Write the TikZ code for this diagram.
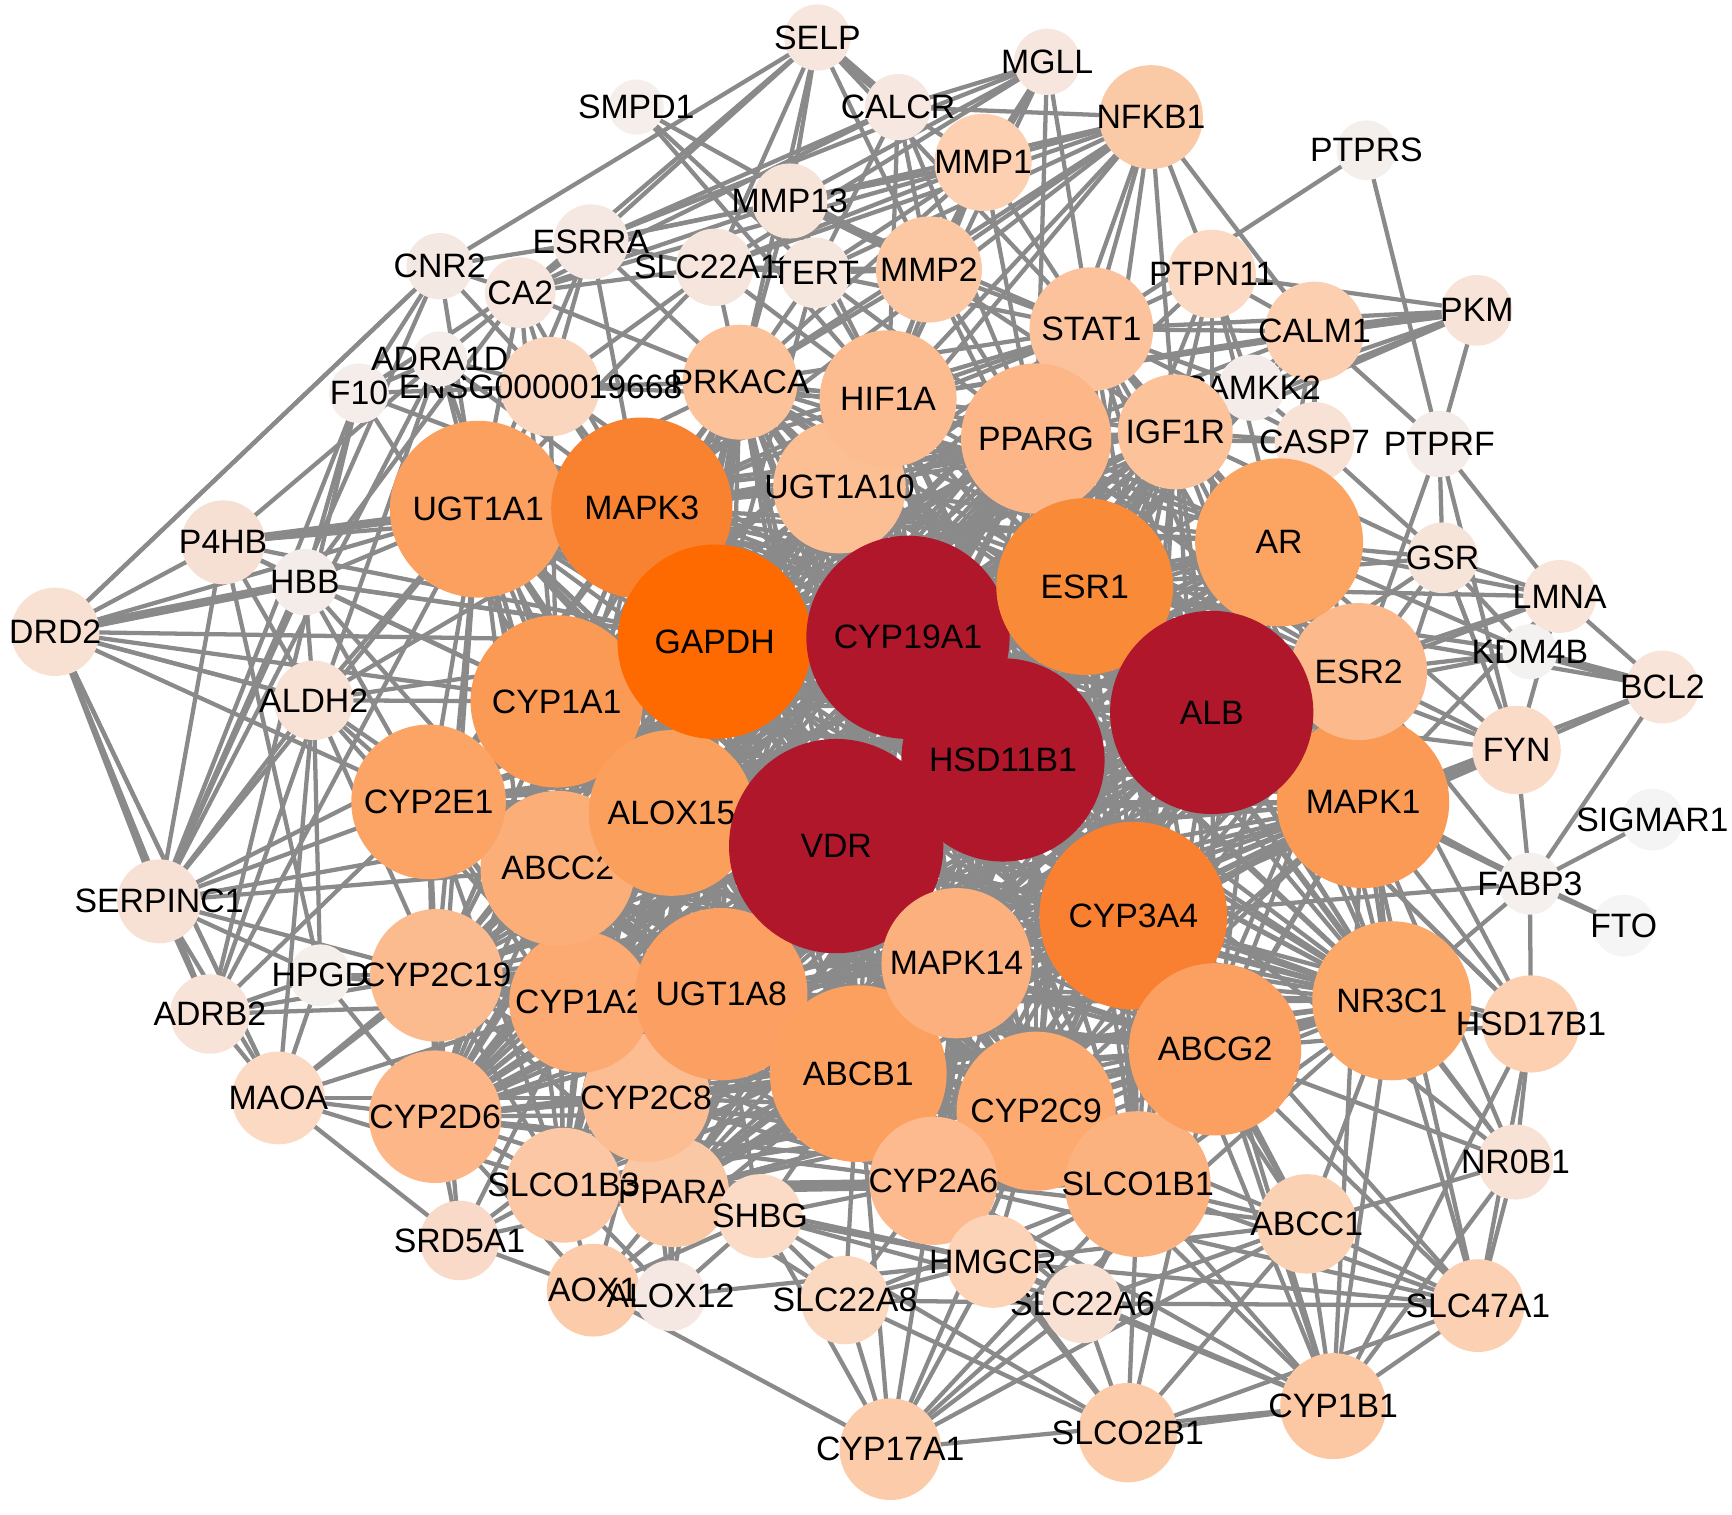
\documentclass[tikz,border=0pt]{standalone}
\usepackage{fontspec}
\setmainfont{Liberation Sans}
\usepackage{tikz}
\definecolor{linkgray}{HTML}{8A8A8A}

\begin{document}
\begin{tikzpicture}[x=0.01cm, y=-0.01cm,
        link/.style={draw=linkgray, line width=1.1pt},
        heavylink/.style={draw=linkgray, line width=2.2pt},
        genelabel/.style={inner sep=0pt, text=black, font=\fontsize{8.7}{10.4}\selectfont}]
    \useasboundingbox (0,0) rectangle (1568,1371);
    % gene positions
    \foreach \g/\x/\y in {SELP/740/34, SMPD1/576/97, CALCR/813/97, MGLL/948/56, NFKB1/1042/106,
        MMP1/890/147, PTPRS/1237/136, MMP13/715/182, ESRRA/535/219, CNR2/398/241, CA2/471/265,
        SLC22A11/647/242, TERT/738/247, MMP2/841/244, PTPN11/1097/248, STAT1/988/298,
        CALM1/1190/300, PKM/1337/281, ADRA1D/398/325, F10/325/356, ENSG00000196689/498/350,
        PRKACA/670/346, HIF1A/804/361, CAMKK2/1133/351, PPARG/938/397, IGF1R/1064/391,
        CASP7/1190/400, PTPRF/1303/402, UGT1A10/760/441, UGT1A1/433/461, MAPK3/581/460,
        P4HB/202/491, HBB/276/527, GSR/1306/505, AR/1158/491, ESR1/982/531, CYP19A1/822/577,
        GAPDH/647/581, LMNA/1412/540, DRD2/50/572, KDM4B/1385/590, BCL2/1505/622, ESR2/1230/608,
        ALB/1097/645, CYP1A1/504/635, ALDH2/284/634, FYN/1373/679, HSD11B1/908/688,
        CYP2E1/388/726, ALOX15/608/736, MAPK1/1234/726, SIGMAR1/1496/742, VDR/757/766,
        ABCC2/505/786, SERPINC1/144/816, FABP3/1385/800, CYP3A4/1026/829, FTO/1470/838,
        MAPK14/866/872, HPGD/290/883, CYP2C19/395/883, CYP1A2/525/907, UGT1A8/653/900,
        NR3C1/1260/906, HSD17B1/1386/927, ADRB2/190/918, ABCG2/1100/950, ABCB1/777/972,
        MAOA/252/994, CYP2C8/585/994, CYP2C9/938/1006, CYP2D6/394/1011, NR0B1/1372/1052,
        SLCO1B3/510/1073, PPARA/610/1079, CYP2A6/845/1069, SLCO1B1/1030/1072, SHBG/688/1101,
        ABCC1/1183/1108, SRD5A1/416/1123, HMGCR/899/1142, AOX1/537/1168, ALOX12/607/1173,
        SLC22A8/765/1177, SLC22A6/980/1180, SLC47A1/1338/1182, CYP1B1/1207/1273,
        SLCO2B1/1021/1297, CYP17A1/806/1312}
        \coordinate (\g) at (\x,\y);

    % dense core: every pair is linked
    \def\corelist{CYP19A1, HSD11B1, VDR, ALB, GAPDH, MAPK3, ESR1, CYP3A4, UGT1A1, AR, MAPK1,
        CYP1A1, ALOX15, ABCC2, CYP2E1, UGT1A8, ABCB1, ABCG2, NR3C1, CYP1A2, MAPK14, CYP2C9,
        SLCO1B1, CYP2A6, CYP2C8, CYP2C19, CYP2D6, PPARG, HIF1A, UGT1A10, IGF1R, STAT1, PRKACA,
        ESR2, SLCO1B3, PPARA}
    \foreach \a [count=\i] in \corelist {
        \foreach \b [count=\j] in \corelist {
            \ifnum\j>\i \draw[link] (\a) -- (\b); \fi
        }
    }

    % outer genes and their partners
    \foreach \s/\ts in {
        SELP/{CNR2,CA2,SLC22A11,MMP13,MMP2,PRKACA,STAT1,ESRRA},
        SMPD1/{TERT,MMP2,HIF1A},
        MGLL/{ESRRA,CALCR,MMP13,MMP1,MMP2,STAT1,PPARG,HIF1A,SLC22A11},
        CALCR/{ESRRA,CA2,MMP2,MMP1,HIF1A,TERT,PPARG,NFKB1},
        NFKB1/{MMP1,MMP2,MMP13,STAT1,PTPN11,PPARG,HIF1A,IGF1R,PRKACA,TERT,SLC22A11,CALM1,ESR1,MAPK3,GAPDH},
        MMP1/{MMP13,MMP2,TERT,STAT1,HIF1A,PPARG,SLC22A11,ESRRA,CA2,PRKACA,UGT1A10},
        PTPRS/{PTPRF,STAT1},
        MMP13/{MMP2,TERT,CA2,ESRRA,PRKACA,HIF1A,STAT1},
        ESRRA/{CNR2,CA2,SLC22A11,ENSG00000196689,PRKACA,UGT1A1,MAPK3,F10},
        CNR2/{CA2,ENSG00000196689,F10,DRD2,SERPINC1,UGT1A1},
        CA2/{ENSG00000196689,SLC22A11,PRKACA,UGT1A1,MAPK3,CYP1A1,ADRA1D,HBB},
        SLC22A11/{TERT,MMP2,PRKACA,HIF1A,UGT1A1,ENSG00000196689},
        TERT/{MMP2,PRKACA,HIF1A,STAT1,PPARG,GAPDH},
        MMP2/{STAT1,HIF1A,PPARG,PRKACA,IGF1R,ESR1},
        PTPN11/{STAT1,CALM1,IGF1R,PPARG,CAMKK2,ESR1,PKM,AR,ALB},
        CALM1/{CAMKK2,CASP7,PTPRF,STAT1,IGF1R,PPARG,HIF1A,ESR1,AR},
        PKM/{PTPRF,STAT1,CAMKK2,HIF1A,IGF1R,GAPDH},
        CAMKK2/{STAT1,IGF1R,PPARG,ESR1,CASP7},
        CASP7/{AR,ESR1,IGF1R,PPARG,GSR,MAPK1,STAT1},
        PTPRF/{GSR,FYN,ESR2,LMNA},
        GSR/{AR,LMNA,ESR1,ESR2,FYN,MAPK1,ALB,KDM4B,IGF1R},
        LMNA/{BCL2,AR,ESR1,ESR2,KDM4B,FYN,ALB,MAPK1},
        KDM4B/{AR,ESR1,ESR2,ALB},
        BCL2/{FYN,FABP3,MAPK1,ESR1},
        FYN/{ESR2,ALB,AR,FABP3,GSR,CYP3A4,ESR1},
        SIGMAR1/{FABP3},
        FABP3/{FTO,MAPK1,ALB,ESR2,NR3C1,HSD17B1,CYP3A4},
        FTO/{MAPK1},
        HSD17B1/{NR3C1,NR0B1,MAPK1,CYP3A4,ABCG2,ESR1,CYP1B1,SLC47A1,AR,ALB},
        NR0B1/{NR3C1,ABCC1,ABCG2,CYP1B1,MAPK1,ESR1,SLC47A1,HSD11B1},
        SLC47A1/{ABCC1,SLCO1B1,ABCG2,NR3C1,CYP1B1,SLC22A6,CYP2A6,SLCO2B1,MAPK1,CYP3A4,HMGCR},
        CYP1B1/{ABCC1,SLCO1B1,ABCG2,NR3C1,SLC22A6,SLCO2B1,CYP17A1,HMGCR,CYP2A6,CYP2C9,CYP3A4,MAPK1,ESR1},
        SLCO2B1/{SLC22A6,HMGCR,SLCO1B1,CYP2A6,ABCC1,ABCG2,SHBG,SLC22A8,ABCB1},
        CYP17A1/{AOX1,SHBG,SLC22A8,HMGCR,SLC22A6,CYP2A6,SLCO1B1,ABCC1,CYP2C9,ABCB1,NR3C1},
        SLC22A6/{HMGCR,SLCO1B1,ABCC1,SLC22A8,CYP2A6,ABCG2,SHBG},
        SLC22A8/{SHBG,HMGCR,CYP2A6,ABCB1,PPARA,SLCO1B1},
        HMGCR/{CYP2A6,SHBG,ABCB1,CYP2C9,SLCO1B1,ABCC1,ALOX12,PPARA},
        ABCC1/{SLCO1B1,ABCG2,NR3C1,CYP2C9,CYP3A4,CYP2A6,HSD11B1},
        ALOX12/{AOX1,SHBG,PPARA,SLCO1B3,CYP2C8,ALOX15,UGT1A8},
        AOX1/{SRD5A1,SLCO1B3,PPARA,SHBG,CYP2C8,CYP2D6,ABCB1},
        SHBG/{PPARA,CYP2C8,ABCB1,CYP2A6,UGT1A8,SLCO1B3},
        SRD5A1/{MAOA,CYP2D6,SLCO1B3,PPARA,CYP2C8,CYP1A2,CYP2C19},
        MAOA/{ADRB2,HPGD,CYP2D6,CYP2C19,CYP1A2,CYP2C8,ALDH2,SERPINC1,DRD2,ABCC2,SLCO1B3},
        ADRB2/{HPGD,SERPINC1,DRD2,CYP2C19,CYP2E1,CYP1A2,F10,ADRA1D,UGT1A1},
        HPGD/{CYP2C19,CYP2D6,SERPINC1,ALDH2,CYP1A2,P4HB},
        SERPINC1/{DRD2,P4HB,HBB,ALDH2,F10,ADRA1D,CYP2E1,CYP2C19,ABCC2,CYP1A1,UGT1A1,ALB},
        ALDH2/{DRD2,HBB,CYP2E1,CYP1A1,UGT1A1,ABCC2,CYP2C19,CYP1A2,MAPK3,GAPDH},
        DRD2/{CNR2,P4HB,UGT1A1,CYP1A1,ALDH2,CYP2E1,ADRB2,MAOA,GAPDH},
        P4HB/{HBB,MAPK3,CYP1A1,GAPDH,ALDH2},
        HBB/{UGT1A1,CYP1A1,GAPDH,ALB,CYP2E1,ABCC2},
        F10/{ENSG00000196689,ADRA1D,HBB,CYP1A1,ALB},
        ADRA1D/{ENSG00000196689,UGT1A1,P4HB,CYP1A1,MAPK3},
        ENSG00000196689/{UGT1A1,MAPK3,PRKACA,CYP1A1,GAPDH,HIF1A,CYP19A1}}
        {\foreach \t in \ts {\draw[link] (\s) -- (\t);}}

    % strongest links
    \foreach \s/\t in {DRD2/HBB, PKM/CALM1, KDM4B/BCL2, SELP/CALCR, FYN/MAPK1, P4HB/UGT1A1}
        \draw[heavylink] (\s) -- (\t);

    % gene circles with labels, back to front
    \foreach \g/\r/\c in {SMPD1/25/F5EEEA, SIGMAR1/28/F4F4F4, FTO/28/F5F5F5, FABP3/28/F5F0EE,
        KDM4B/25/F4F2F1, HPGD/28/F5EFEC, F10/27/F4EDEA, ENSG00000196689/45/FBD6BF,
        ADRA1D/25/F4EDEA, HBB/30/F3ECE8, CNR2/30/F4E8E2, CA2/32/F6E6DE, ESRRA/34/F5E8E3,
        SLC22A11/35/F5E5DC, TERT/32/F5E6DE, MMP13/34/F7E4D8, SELP/30/F6E6DE, CALCR/30/F6E7E0,
        MGLL/30/F6E6DE, PTPRS/27/F5EFEB, PKM/32/F7E3D8, CALM1/45/FBCFB0, CAMKK2/30/F4ECE8,
        PTPRF/30/F4ECE8, GSR/32/F7E4D9, LMNA/33/F8E4D8, BCL2/33/F8E4D8, FYN/40/FADBC8,
        CASP7/36/F8E2D6, P4HB/38/F6E0D3, DRD2/40/F8E0D2, ALDH2/36/F8E2D6, SERPINC1/38/F7E1D5,
        ADRB2/36/F7E3D8, MAOA/42/FBD9C3, SRD5A1/36/F9DAC8, AOX1/42/FCCBAA, ALOX12/32/F5E8E3,
        SLC22A8/40/FBD8C0, SLC22A6/36/F8E0D3, NR0B1/34/F8E2D6, SLC47A1/42/FCD0B2,
        CYP1B1/48/FCC8A4, SLCO2B1/45/FCCBAA, CYP17A1/46/FCCCAA, PTPN11/40/FBD9C2,
        NFKB1/47/FAC9A5, MMP1/44/FCD0B0, MMP2/48/FCC8A4, ABCC1/45/FBD1B3, PPARA/50/FBC8A6,
        SLCO1B3/52/FBC7A5, SHBG/38/FBDBC5, PRKACA/52/FCC29A, IGF1R/52/FCC29A, STAT1/56/FCC29B,
        UGT1A10/60/FCBE93, HIF1A/62/FCBC90, PPARG/68/FCB688, CYP2D6/60/FCB688,
        CYP2C8/58/FCBD93, CYP1A2/64/FCAA72, CYP2C19/60/FCBB8E, NR3C1/72/FCA868,
        HSD17B1/44/FCD0B0, MAPK1/78/FB9A55, ESR2/62/FCBA8C, ABCC2/70/FCAE78, CYP1A1/78/FB9A55,
        CYP2E1/70/FBA466, ALOX15/75/FB9F5D, UGT1A1/80/FCA060, MAPK3/82/F98231, AR/76/FCA462,
        UGT1A8/78/FBA062, ABCB1/80/FCA060, CYP2C9/72/FCAA70, CYP2A6/58/FCBA8E,
        HMGCR/42/FCD3B7, SLCO1B1/66/FCB27E, CYP3A4/85/F98030, ABCG2/78/FBA060,
        GAPDH/88/FE6A00, CYP19A1/92/B0172B, ESR1/80/F98A38, HSD11B1/92/B0172B,
        VDR/97/B0172B, MAPK14/68/FCB07E, ALB/92/B0172B}
    {
        \definecolor{genefill}{HTML}{\c}
        \fill[genefill] (\g) circle (\r);
        \node[genelabel] (\g-txt) at (\g) {\g};
    }
\end{tikzpicture}
\end{document}
